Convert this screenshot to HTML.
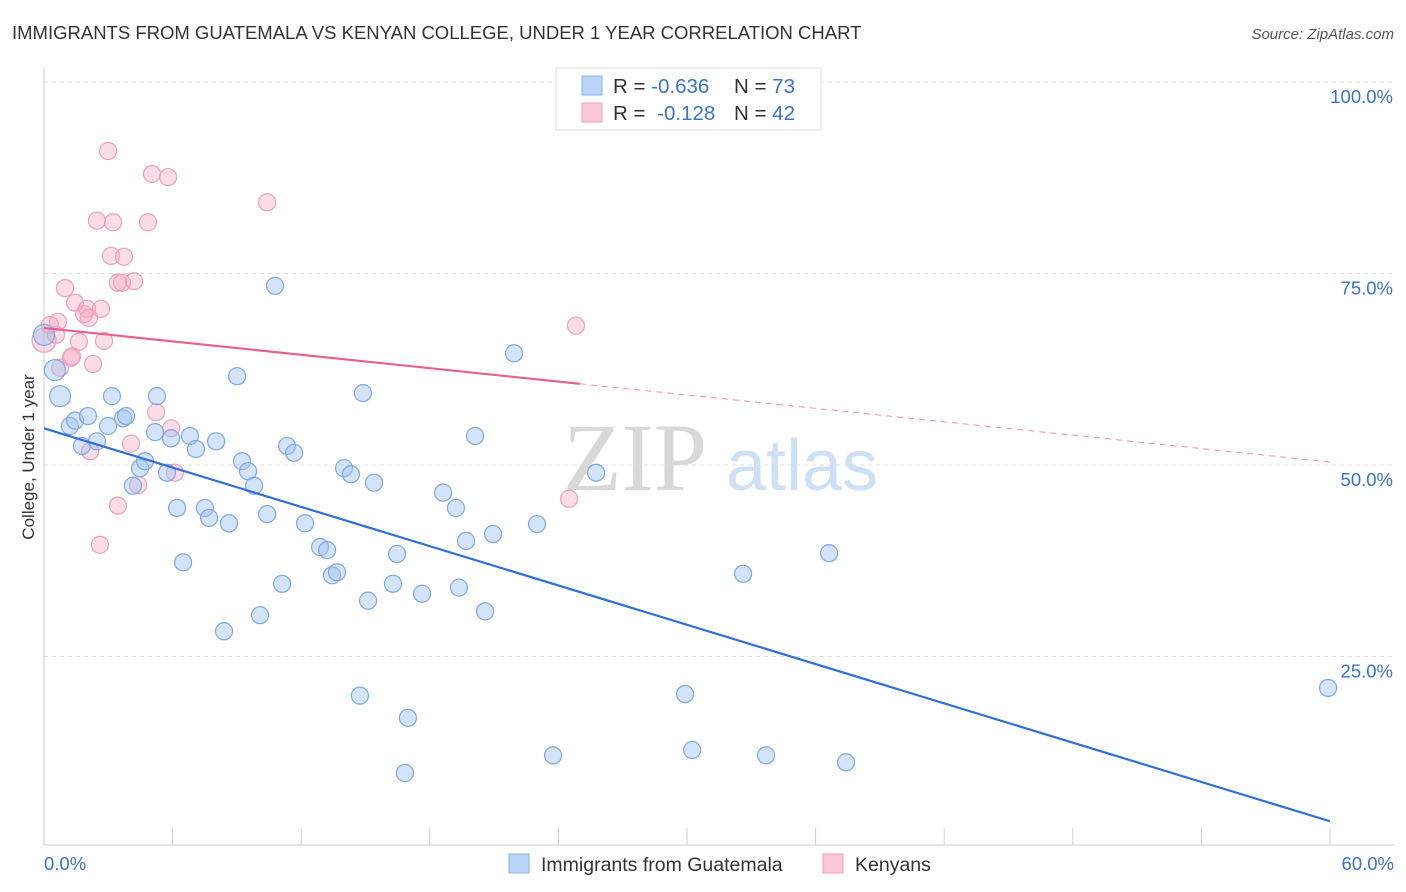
<!DOCTYPE html>
<html><head><meta charset="utf-8">
<style>
body{margin:0;background:#fff;font-family:"Liberation Sans",sans-serif;}
svg{display:block}
</style></head><body>
<svg id="chart" width="1406" height="892" xmlns="http://www.w3.org/2000/svg">
<text x="12" y="39" font-size="18.5" fill="#333">IMMIGRANTS FROM GUATEMALA VS KENYAN COLLEGE, UNDER 1 YEAR CORRELATION CHART</text>
<text x="1394" y="39" font-size="15" fill="#555" font-style="italic" text-anchor="end">Source: ZipAtlas.com</text>
<g>
<text x="635" y="490" font-size="96" fill="#d8d8d8" font-family="Liberation Serif,serif" text-anchor="middle">ZIP</text>
<text x="802" y="490" font-size="72" fill="#cfe0f4" text-anchor="middle">atlas</text>
</g>
<g id="grid"></g><g id="axes"></g><g id="marks"></g>
<text transform="translate(34,457) rotate(-90)" font-size="17" fill="#333" text-anchor="middle">College, Under 1 year</text>
<g>
<rect x="556" y="68" width="265" height="62" fill="#fff" stroke="#ddd"/>
<rect x="582" y="76" width="20" height="19" fill="#b8d4f6" stroke="#8ab2e6"/>
<rect x="582" y="103" width="20" height="19" fill="#fcc8d8" stroke="#eea0bc"/>
<text x="613" y="93" font-size="20.5" fill="#333">R = <tspan fill="#3a73c8">-0.636</tspan><tspan x="734">N = </tspan><tspan fill="#3a73c8">73</tspan></text>
<text x="613" y="120" font-size="20.5" fill="#333">R = <tspan fill="#3a73c8" dx="6">-0.128</tspan><tspan x="734">N = </tspan><tspan fill="#3a73c8">42</tspan></text>
</g>
<g>
<rect x="509" y="854" width="20" height="19" fill="#b8d4f6" stroke="#8ab2e6"/>
<text x="541" y="871" font-size="19.5" fill="#333">Immigrants from Guatemala</text>
<rect x="823" y="854" width="20" height="19" fill="#fcc8d8" stroke="#eea0bc"/>
<text x="855" y="871" font-size="19.5" fill="#333">Kenyans</text>
</g>
</svg>
<script>
const xTicks=[0,6,12,18,24,30,36,42,48,54,60];
const yTicks=[25,50,75,100];
const yTickLabels=["25.0%","50.0%","75.0%","100.0%"];
const xEndLabels=["0.0%","60.0%"];
const blueX=[0.75,0.51,1.21,1.45,2.05,1.77,2.47,2.99,3.17,3.69,3.83,4.48,4.71,4.15,5.18,5.27,5.74,5.93,6.21,6.49,6.81,7.09,7.51,7.70,8.03,8.40,8.63,9.01,9.24,9.52,9.80,10.08,10.41,10.78,11.11,11.34,11.67,12.18,12.88,13.21,13.44,13.67,14.00,14.32,14.74,14.88,15.12,15.40,16.28,16.47,16.98,16.84,17.64,18.62,19.22,19.36,19.69,20.11,20.58,20.95,21.93,23.00,23.75,25.76,29.91,30.24,32.62,33.69,36.63,37.42,59.91,0.0];
const blueY=[58.6,62.0,54.7,55.4,56.0,52.1,52.7,54.7,58.6,55.7,56.0,49.2,50.1,46.9,53.9,58.6,48.6,53.1,44.0,36.9,53.4,51.7,44.0,42.7,52.7,27.9,42.0,61.2,50.1,48.8,46.9,30.0,43.2,73.0,34.1,52.1,51.2,42.0,38.9,38.5,35.2,35.6,49.2,48.4,19.5,59.0,31.9,47.3,34.1,38.0,16.6,9.4,32.8,46.0,44.0,33.6,39.7,53.4,30.5,40.6,64.2,41.9,11.7,48.6,19.7,12.4,35.4,11.7,38.1,10.8,20.5,66.6];
const pinkX=[0.0,0.28,0.56,0.65,0.75,0.98,1.26,1.45,1.31,1.63,1.87,2.01,2.10,2.15,2.47,2.61,2.66,2.80,2.99,3.13,3.22,3.45,3.45,3.64,3.73,2.29,4.06,4.20,4.39,4.85,5.04,5.23,5.79,5.93,6.11,10.41,24.50,24.82];
const pinkY=[65.9,67.9,66.6,68.3,62.3,72.7,63.6,70.8,63.8,65.7,69.3,70.0,68.8,51.4,81.5,39.2,70.0,65.8,90.6,76.9,81.3,44.3,73.4,73.4,76.8,62.8,52.4,73.6,47.0,81.3,87.6,56.5,87.2,54.4,48.6,83.9,45.2,67.8];
const blueTrend=[54.4,3.1];
const pinkTrend=[67.5,50.0];
const pinkSolidEnd=25.0;
const X=v=>44+v/60*1286, Y=v=>845-v/100*766;
const NS="http://www.w3.org/2000/svg";
function mk(parent,tag,attrs){const e=document.createElementNS(NS,tag);for(const k in attrs)e.setAttribute(k,attrs[k]);document.getElementById(parent).appendChild(e);return e;}
yTicks.forEach((t,i)=>{
 const g=mk('grid','line',{x1:44,x2:1394,y1:Y(t)+3,y2:Y(t)+3,stroke:'#ddd','stroke-dasharray':'4,4'});
 
 
 const l=mk('axes','text',{x:1393,y:Y(t)+24,'font-size':18.5,fill:'#3a73c8','text-anchor':'end'});
 l.textContent=yTickLabels[i];
 
 
});
const ax=mk('axes','line',{x1:44,x2:1394,y1:845,y2:845,stroke:'#ccc'});


const ay=mk('axes','line',{x1:44,x2:44,y1:68,y2:845,stroke:'#ccc'});


xTicks.forEach(t=>{const e=mk('axes','line',{x1:X(t),x2:X(t),y1:828,y2:845,stroke:'#ccc'});
 
 });
const xl0=mk('axes','text',{x:44,y:870,'font-size':18.5,fill:'#3a73c8'});xl0.textContent=xEndLabels[0];


const xl1=mk('axes','text',{x:1394,y:870,'font-size':18.5,fill:'#3a73c8','text-anchor':'end'});xl1.textContent=xEndLabels[1];


pinkX.forEach((x,i)=>{const c=mk('marks','circle',{cx:X(x),cy:Y(pinkY[i]),r:x===0?12:8.5,fill:'rgba(246,170,196,0.4)',stroke:'#eea0bc','stroke-width':1.2});
 
 });
blueX.forEach((x,i)=>{const c=mk('marks','circle',{cx:X(x),cy:Y(blueY[i]),r:(i<2||x===0)?10.5:8.5,fill:'rgba(160,196,240,0.45)',stroke:'#7fa8e0','stroke-width':1.2});
 
 });
const bt=mk('marks','line',{x1:X(0),y1:Y(blueTrend[0]),x2:X(60),y2:Y(blueTrend[1]),stroke:'#2f6fd6','stroke-width':2.2});


const pm=pinkTrend[0]+(pinkTrend[1]-pinkTrend[0])*pinkSolidEnd/60;
const pt=mk('marks','line',{x1:X(0),y1:Y(pinkTrend[0]),x2:X(pinkSolidEnd),y2:Y(pm),stroke:'#e8608e','stroke-width':2.2});


const pd=mk('marks','line',{x1:X(pinkSolidEnd),y1:Y(pm),x2:X(60),y2:Y(pinkTrend[1]),stroke:'#e8608e','stroke-width':1,'stroke-dasharray':'6,5',opacity:0.7});


</script>
</body></html>
